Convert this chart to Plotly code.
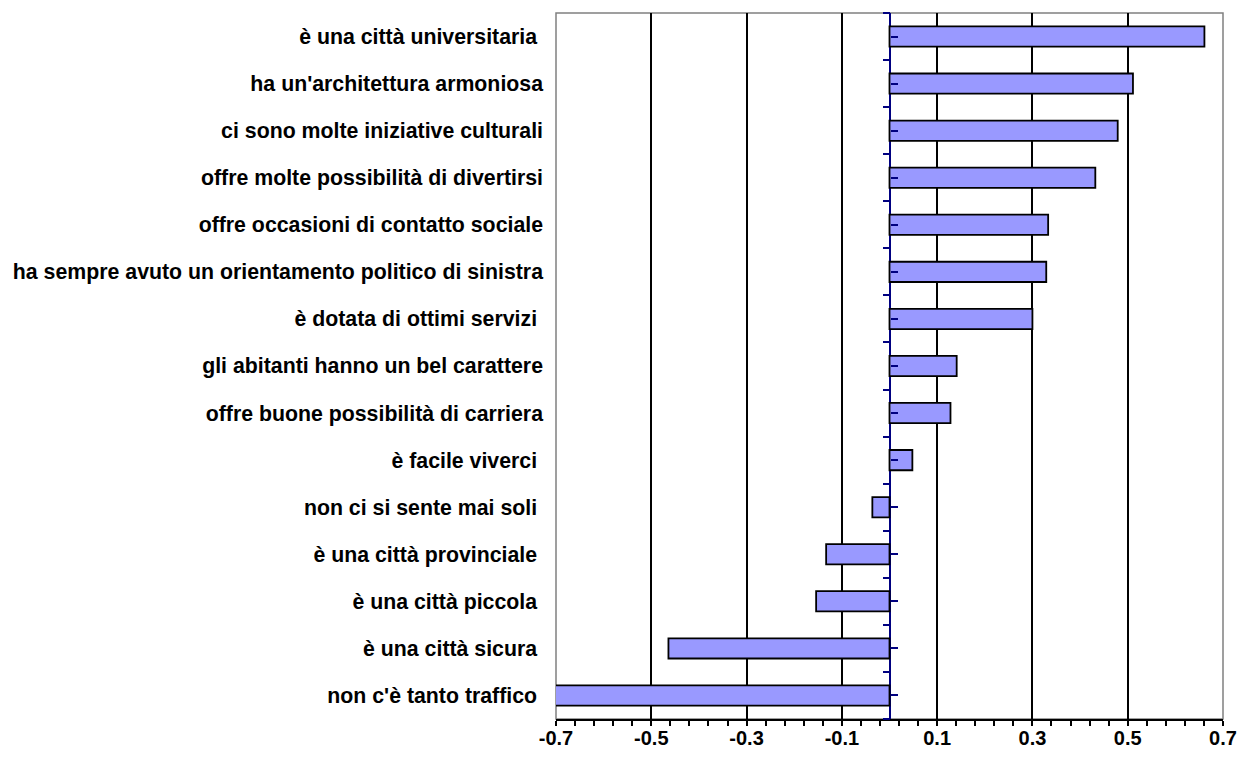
import plotly.graph_objects as go

categories = [
    "è una città universitaria\u00a0",
    "ha un'architettura armoniosa",
    "ci sono molte iniziative culturali",
    "offre molte possibilità di divertirsi",
    "offre occasioni di contatto sociale",
    "ha sempre avuto un orientamento politico di sinistra",
    "è dotata di ottimi servizi\u00a0",
    "gli abitanti hanno un bel carattere",
    "offre buone possibilità di carriera",
    "è facile viverci\u00a0",
    "non ci si sente mai soli\u00a0",
    "è una città provinciale\u00a0",
    "è una città piccola\u00a0",
    "è una città sicura\u00a0",
    "non c'è tanto traffico\u00a0",
]
values = [0.661, 0.511, 0.479, 0.432, 0.333, 0.329, 0.300, 0.141, 0.128, 0.048,
          -0.036, -0.133, -0.154, -0.464, -0.705]
x_ticks = [-0.7, -0.5, -0.3, -0.1, 0.1, 0.3, 0.5, 0.7]
x_ticklabels = ["-0.7", "-0.5", "-0.3", "-0.1", "0.1", "0.3", "0.5", "0.7"]

FONT = "Liberation Sans, Arial, sans-serif"
NAVY = "#000080"

fig = go.Figure()
fig.add_trace(go.Bar(
    x=values, y=categories, orientation="h", width=0.43,
    marker=dict(color="#9999FF", line=dict(color="black", width=1.8)),
    showlegend=False,
))
# helper traces to activate the tick-mark axes along the zero line
fig.add_trace(go.Scatter(x=[None], y=[None], yaxis="y2", showlegend=False, hoverinfo="skip"))
fig.add_trace(go.Scatter(x=[None], y=[None], yaxis="y3", showlegend=False, hoverinfo="skip"))

n = len(categories)
fig.update_layout(
    width=1239, height=772,
    margin=dict(l=556, r=16, t=13, b=53),
    paper_bgcolor="white", plot_bgcolor="white",
    font=dict(family=FONT, size=20, color="black"),
    xaxis=dict(
        automargin=False,
        range=[-0.7, 0.7], tickmode="array", tickvals=x_ticks, ticktext=x_ticklabels,
        tickfont=dict(family=FONT, size=20, color="black", weight="bold"),
        ticks="",
        minor=dict(dtick=0.04, tick0=-0.7, ticks="outside", ticklen=5,
                   tickcolor="black", tickwidth=1.5, showgrid=False),
        showgrid=True, gridcolor="black", gridwidth=1.5,
        showline=True, linecolor="black", linewidth=1.5,
        zeroline=True, zerolinecolor=NAVY, zerolinewidth=1.8,
        ticklabelstandoff=0,
    ),
    yaxis=dict(
        automargin=False,
        autorange="reversed", type="category",
        tickfont=dict(family=FONT, size=21.3, color="black", weight="bold"),
        ticks="", showgrid=False, showline=False, zeroline=False,
        ticklabelstandoff=12,
    ),
    yaxis2=dict(
        automargin=False,
        overlaying="y", anchor="free", position=0.5, side="left",
        range=[n - 0.5, -0.5], tickmode="linear", tick0=-0.5, dtick=1,
        ticks="outside", ticklen=7, tickwidth=1.5, tickcolor=NAVY,
        showticklabels=False, showgrid=False, zeroline=False, showline=False,
    ),
    yaxis3=dict(
        automargin=False,
        overlaying="y", anchor="free", position=0.5, side="right",
        range=[n - 0.5, -0.5], tickmode="linear", tick0=0, dtick=1,
        ticks="outside", ticklen=7, tickwidth=1.5, tickcolor=NAVY,
        showticklabels=False, showgrid=False, zeroline=False, showline=False,
    ),
    shapes=[dict(type="rect", xref="x domain", yref="y domain", x0=0, x1=1, y0=0, y1=1,
                 line=dict(color="#808080", width=1.5), layer="below")],
)

fig.write_html("out.html", config={"displayModeBar": False},
               post_script="document.body.style.margin='0';document.body.style.overflow='hidden';")
